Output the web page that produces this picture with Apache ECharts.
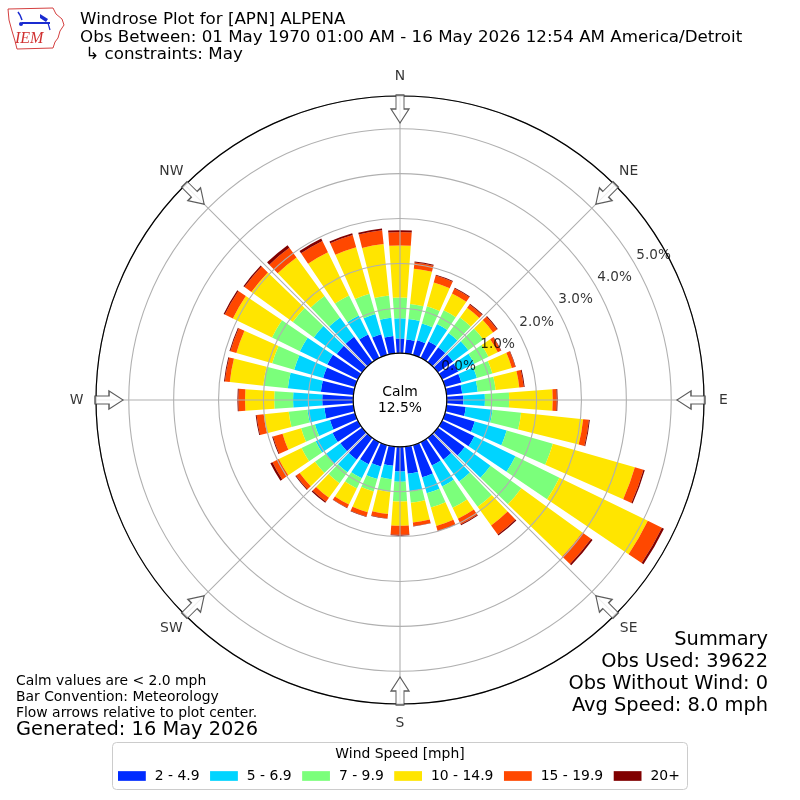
<!DOCTYPE html>
<html><head><meta charset="utf-8">
<script src="https://cdn.jsdelivr.net/npm/echarts@6/dist/echarts.min.js"></script>
<style>html,body{margin:0;padding:0;background:#fff}#c{width:800px;height:800px}</style>
</head><body><div id="c"></div>
<script>
// ---- data ----
const directions = [0,10,20,30,40,50,60,70,80,90,100,110,120,130,140,150,160,170,180,190,200,210,220,230,240,250,260,270,280,290,300,310,320,330,340,350];
const speedBins = ['2 - 4.9','5 - 6.9','7 - 9.9','10 - 14.9','15 - 19.9','20+'];
const binColors = ['#002bff','#00d4ff','#7bff7b','#ffe500','#ff4800','#800000'];
// percent of observations per direction, per speed bin
const bin2to5   = [.33,.31,.34,.41,.41,.42,.40,.38,.35,.37,.43,.69,.80,.74,.60,.58,.75,.61,.55,.43,.50,.55,.60,.60,.63,.58,.65,.69,.73,.74,.76,.70,.70,.58,.48,.39];
const bin5to7   = [.45,.46,.39,.43,.39,.42,.40,.36,.35,.48,.60,.74,1.02,.71,.60,.52,.37,.39,.23,.30,.29,.35,.35,.40,.42,.35,.38,.65,.74,.67,.68,.63,.53,.47,.47,.41];
const bin7to10  = [.46,.34,.40,.34,.43,.41,.35,.36,.40,.54,.64,1.07,1.09,.85,.70,.53,.33,.26,.44,.29,.29,.25,.30,.30,.35,.32,.42,.42,.55,.51,.69,.58,.59,.50,.47,.50];
const bin10to15 = [1.16,.79,.55,.42,.27,.27,.23,.45,.53,.97,1.39,1.90,2.19,1.68,.51,.27,.43,.44,.54,.49,.48,.40,.40,.42,.56,.43,.56,.65,.75,.83,.97,1.14,1.06,1.07,1.08,1.15];
const bin15to20 = [.30,.14,.16,.12,.09,.11,.08,.08,.10,.09,.13,.20,.35,.24,.25,.14,.11,.08,.20,.10,.10,.08,.11,.10,.16,.22,.16,.15,.11,.14,.20,.19,.27,.28,.28,.31];
const bin20plus = [.04,.02,.02,.02,.02,.02,.01,.01,.02,.02,.02,.03,.05,.04,.03,.02,.01,.01,.02,.01,.01,.01,.03,.02,.05,.02,.02,.02,.02,.02,.03,.03,.07,.06,.04,.04];
const ringTicks = [0,1,2,3,4,5];
const compassLabels = ['N','NE','E','SE','S','SW','W','NW'];
const compassAngles = [0,45,90,135,180,225,270,315];
const calmPct = 12.5;
const titleLines = ['Windrose Plot for [APN] ALPENA','Obs Between: 01 May 1970 01:00 AM - 16 May 2026 12:54 AM America/Detroit',' \u21b3 constraints: May'];
const summaryLines = ['Summary','Obs Used: 39622','Obs Without Wind: 0','Avg Speed: 8.0 mph'];
const noteLines = ['Calm values are < 2.0 mph','Bar Convention: Meteorology','Flow arrows relative to plot center.'];
const generatedText = 'Generated: 16 May 2026';
const legendTitle = 'Wind Speed [mph]';

// ---- layout ----
const binData = [bin2to5,bin5to7,bin7to10,bin10to15,bin15to20,bin20plus];
const FONT = '"DejaVu Sans"';
const R0 = 46.8, R1 = 304, RMAX = 5.73;
const ringLabelOffset = 0.46, ringLabelAngle = 60.3, arrowR = 5.44, compassLabelR = 6.16;
const arrowPath = 'path://M-4,0L4,0L4,14L9,14L0,28L-9,14L-4,14Z';

const chart = echarts.init(document.getElementById('c'), null, {renderer:'canvas', width:800, height:800});

const graphics = [];
// legend box
graphics.push({type:'rect', z:0, shape:{x:112.5,y:742.5,width:575,height:47,r:4}, style:{fill:'#fff', stroke:'#cccccc', lineWidth:1}});
graphics.push({type:'text', z:1, x:400, y:754, style:{text:legendTitle, fill:'#000', font:'13.9px '+FONT, textAlign:'center', textVerticalAlign:'middle'}});
// logo
graphics.push({type:'polyline', shape:{points:[[8,9],[53,8],[56,14],[62,19],[64,25],[60,31],[58,38],[55,42],[53,48],[17,49],[15,41],[12,31],[9,20],[8,9]]}, style:{stroke:'#d44040', lineWidth:1, fill:null}});
graphics.push({type:'polyline', shape:{points:[[18,12],[20,15],[22,20]]}, style:{stroke:'#1a2bd0', lineWidth:1.5, fill:null}});
graphics.push({type:'line', shape:{x1:22,y1:23,x2:50,y2:23}, style:{stroke:'#1a2bd0', lineWidth:2}});
graphics.push({type:'polygon', shape:{points:[[40,14],[48,19],[46,22],[40,18]]}, style:{fill:'#1a2bd0'}});
graphics.push({type:'circle', shape:{cx:21,cy:24,r:2}, style:{fill:'#1a2bd0'}});
graphics.push({type:'line', shape:{x1:48,y1:23,x2:50,y2:30}, style:{stroke:'#1a2bd0', lineWidth:1.2}});
graphics.push({type:'text', x:15, y:39, style:{text:'IEM', fill:'#d03030', font:'italic 16px "Liberation Serif"', textAlign:'left', textVerticalAlign:'middle'}});
// header
titleLines.forEach((t,i)=>graphics.push({type:'text', x:80, y:20+i*17.5, style:{text:t, fill:'#000', font:'16.7px '+FONT, textAlign:'left', textVerticalAlign:'middle'}}));
// summary
summaryLines.forEach((t,i)=>graphics.push({type:'text', x:768, y:640+i*22, style:{text:t, fill:'#000', font:'19.4px '+FONT, textAlign:'right', textVerticalAlign:'middle'}}));
// notes
noteLines.forEach((t,i)=>graphics.push({type:'text', x:16, y:681+i*16, style:{text:t, fill:'#000', font:'13.9px '+FONT, textAlign:'left', textVerticalAlign:'middle'}}));
graphics.push({type:'text', x:16, y:730, style:{text:generatedText, fill:'#000', font:'19.4px '+FONT, textAlign:'left', textVerticalAlign:'middle'}});
// calm
graphics.push({type:'text', z:30, x:400, y:400, style:{text:'Calm\n'+calmPct.toFixed(1)+'%', fill:'#000', font:'13.9px '+FONT, lineHeight:16, textAlign:'center', textVerticalAlign:'middle'}});

const series = speedBins.map((name,i)=>({
  type:'bar', name, coordinateSystem:'polar', polarIndex:0, stack:'wind',
  data: binData[i], barWidth:'80%', z:2, silent:true,
  itemStyle:{color: binColors[i]}
}));
series.push({
  type:'scatter', coordinateSystem:'polar', polarIndex:1, silent:true, z:20,
  data: ringTicks.map(t=>[t+ringLabelOffset, ringLabelAngle]),
  symbolSize:1, itemStyle:{color:'rgba(0,0,0,0)'},
  label:{show:true, position:'inside', formatter:p=>ringTicks[p.dataIndex].toFixed(1)+'%', color:'#000', textBorderWidth:0, fontSize:13.6, fontFamily:'DejaVu Sans'}
});
series.push({
  type:'scatter', coordinateSystem:'polar', polarIndex:1, silent:true, z:20,
  data: compassAngles.map(a=>({value:[arrowR, a], symbolRotate:-a})),
  symbol: arrowPath, symbolSize:[18,28],
  itemStyle:{color:'#fff', borderColor:'#333', borderWidth:1.2}
});
series.push({
  type:'scatter', coordinateSystem:'polar', polarIndex:1, silent:true, z:20, clip:false,
  data: compassAngles.map(a=>[compassLabelR, a]),
  symbolSize:1, itemStyle:{color:'rgba(0,0,0,0)'},
  label:{show:true, position:'inside', formatter:p=>compassLabels[p.dataIndex], color:'#000', textBorderWidth:0, fontSize:13.9, fontFamily:'DejaVu Sans'}
});

chart.setOption({
  animation:false,
  backgroundColor:'#fff',
  textStyle:{fontFamily:'DejaVu Sans'},
  polar:[{center:[400,400], radius:[R0,R1]},{center:[400,400], radius:[R0,R1]}],
  angleAxis:[
    {polarIndex:0, type:'category', data:directions.map(String), startAngle:95, clockwise:true, z:6,
     axisLine:{show:true, lineStyle:{color:'#000', width:1.2}}, axisTick:{show:false}, axisLabel:{show:false}, splitLine:{show:false}, splitArea:{show:false}},
    {polarIndex:1, type:'value', min:0, max:360, interval:45, startAngle:90, clockwise:true, z:5,
     axisLine:{show:false}, axisTick:{show:false}, splitArea:{show:false}, axisLabel:{show:false},
     splitLine:{show:true, lineStyle:{color:'#b0b0b0', width:1.1}}}
  ],
  radiusAxis:[
    {polarIndex:0, type:'value', min:0, max:RMAX, interval:1, z:5,
     axisLine:{show:false}, axisTick:{show:false}, axisLabel:{show:false}, splitArea:{show:false},
     splitLine:{show:true, lineStyle:{color:'#b0b0b0', width:1.1}}},
    {polarIndex:1, type:'value', min:0, max:RMAX, interval:1,
     axisLine:{show:false}, axisTick:{show:false}, axisLabel:{show:false}, splitLine:{show:false}, splitArea:{show:false}}
  ],
  legend:{data:speedBins, left:118, top:769, itemWidth:27.8, itemHeight:9.7, itemGap:10.5, padding:0, icon:'rect', z:5, selectedMode:false,
    textStyle:{fontSize:13.9, fontFamily:'DejaVu Sans', color:'#000', padding:[0,0,0,4]}},
  graphic:{elements:graphics},
  series
});
</script></body></html>
